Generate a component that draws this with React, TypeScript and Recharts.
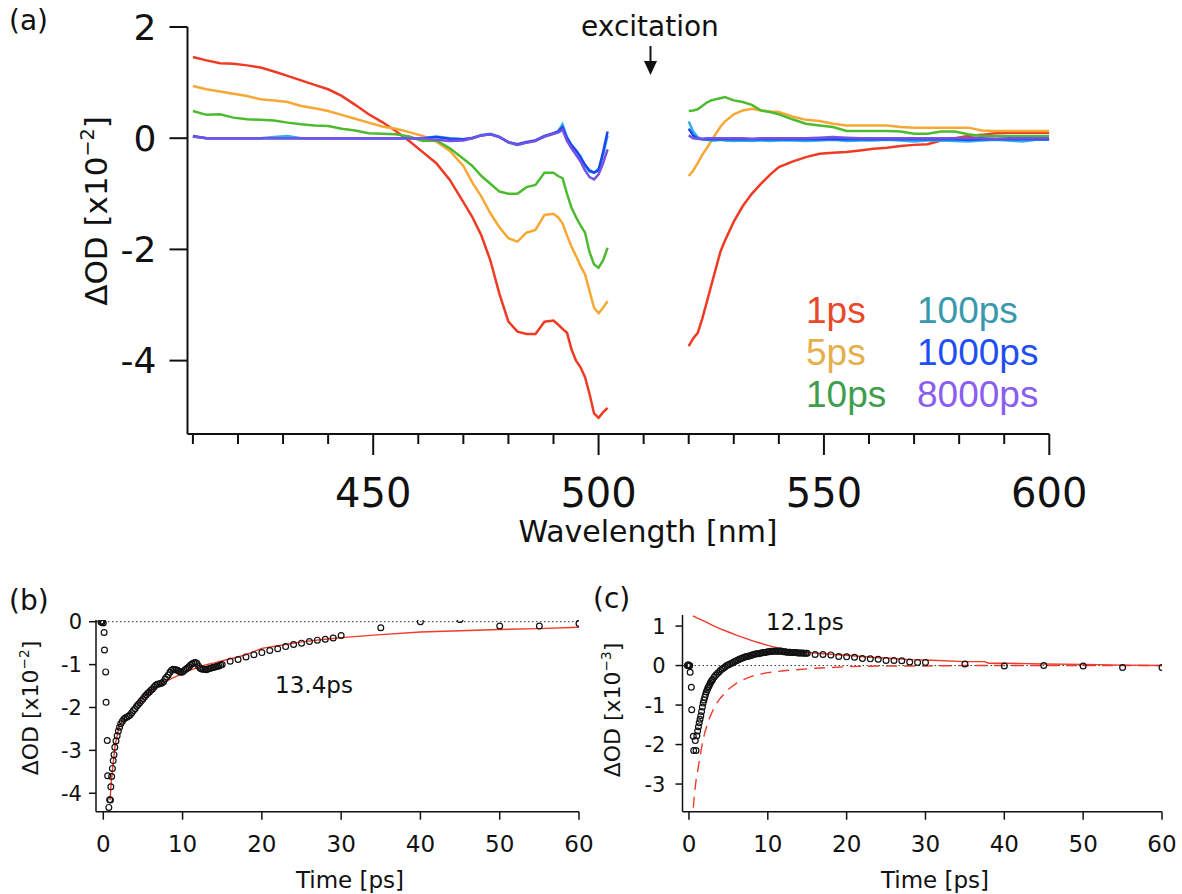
import React from 'react';
import { LineChart, Line, XAxis, YAxis, Legend, ComposedChart, Scatter, ReferenceLine } from 'recharts';

const FONT = '"DejaVu Sans", Verdana, sans-serif';
const LEGEND_FONT = '"Liberation Sans", Arial, sans-serif';
const INK = '#111111';

// ---------- Panel (a): transient spectra ----------
const wavelengths = [
  410, 413, 416, 419, 422, 425, 428, 431, 434, 437, 440, 443, 446, 449, 452, 455, 458, 461, 464, 467,
  470, 472, 474, 476, 478, 480, 482, 484, 486, 488, 490,
  491, 492, 493, 494, 495, 496, 497, 498, 499, 500, 501, 502,
  510,
  520, 521, 522, 523, 524, 525, 526, 527, 528,
  530, 532, 534, 536, 538, 540,
  543, 546, 549, 552, 555, 558, 561, 564, 567, 570, 573, 576, 579, 582, 585, 588, 591, 594, 597, 600,
];

const series1ps = [
  1.46, 1.40, 1.35, 1.34, 1.31, 1.27, 1.20, 1.12, 1.04, 0.96, 0.88, 0.76, 0.60, 0.43, 0.29, 0.13, -0.05, -0.25, -0.45, -0.75,
  -1.15, -1.42, -1.75, -2.20, -2.80, -3.30, -3.48, -3.52, -3.52, -3.30, -3.28,
  -3.35, -3.43, -3.50, -3.80, -4.00, -4.12, -4.30, -4.60, -4.95, -5.03, -4.93, -4.85,
  null,
  -3.74, -3.60, -3.50, -3.25, -2.95, -2.65, -2.35, -2.05, -1.85,
  -1.50, -1.22, -1.00, -0.82, -0.66, -0.52,
  -0.42, -0.34, -0.28, -0.26, -0.25, -0.22, -0.19, -0.17, -0.14, -0.12, -0.11, -0.04, 0.00, 0.04, 0.06, 0.09, 0.10, 0.10, 0.10, 0.10,
];
const series5ps = [
  0.94, 0.88, 0.84, 0.80, 0.76, 0.70, 0.68, 0.65, 0.58, 0.54, 0.49, 0.42, 0.35, 0.28, 0.21, 0.17, 0.11, 0.04, -0.06, -0.23,
  -0.50, -0.80, -1.05, -1.35, -1.60, -1.80, -1.86, -1.70, -1.65, -1.38, -1.36,
  -1.42, -1.53, -1.75, -1.95, -2.12, -2.30, -2.45, -2.75, -3.05, -3.15, -3.05, -2.93,
  null,
  -0.68, -0.58, -0.45, -0.30, -0.18, -0.05, 0.08, 0.20, 0.30,
  0.43, 0.50, 0.53, 0.50, 0.48, 0.47,
  0.39, 0.33, 0.31, 0.26, 0.23, 0.23, 0.23, 0.23, 0.20, 0.19, 0.19, 0.19, 0.19, 0.19, 0.14, 0.13, 0.13, 0.13, 0.13, 0.13,
];
const series10ps = [
  0.49, 0.42, 0.43, 0.37, 0.34, 0.33, 0.32, 0.28, 0.25, 0.23, 0.22, 0.17, 0.14, 0.09, 0.08, 0.07, 0.03, -0.05, -0.04, -0.18,
  -0.37, -0.50, -0.68, -0.82, -0.96, -1.00, -1.00, -0.88, -0.84, -0.62, -0.62,
  -0.68, -0.72, -1.00, -1.25, -1.42, -1.57, -1.70, -2.05, -2.27, -2.33, -2.20, -1.97,
  null,
  0.49, 0.50, 0.52, 0.58, 0.64, 0.68, 0.70, 0.72, 0.74,
  0.68, 0.65, 0.60, 0.50, 0.47, 0.43,
  0.34, 0.26, 0.23, 0.20, 0.13, 0.13, 0.13, 0.13, 0.12, 0.08, 0.08, 0.12, 0.12, 0.07, 0.04, 0.04, 0.04, 0.04, 0.04, 0.04,
];
const series100ps = [
  0.03, 0.00, 0.00, 0.00, 0.00, 0.00, 0.02, 0.04, 0.00, 0.00, 0.00, 0.00, 0.00, 0.00, 0.00, 0.00, 0.00, 0.00, 0.03, 0.00,
  -0.02, 0.01, 0.06, 0.08, 0.03, -0.08, -0.12, -0.08, -0.04, 0.03, 0.08,
  0.12, 0.25, 0.02, -0.12, -0.22, -0.32, -0.50, -0.60, -0.62, -0.55, -0.30, 0.05,
  null,
  0.30, 0.12, 0.02, -0.02, -0.03, -0.04, -0.04, -0.03, -0.04,
  -0.05, -0.04, -0.05, -0.04, -0.05, -0.04,
  -0.04, -0.05, -0.04, -0.03, -0.05, -0.04, -0.04, -0.03, -0.04, -0.06, -0.04, -0.04, -0.05, -0.06, -0.04, -0.03, -0.04, -0.06, -0.03, -0.03,
];
const series1000ps = [
  0.04, 0.00, 0.00, 0.00, 0.00, 0.00, 0.00, 0.00, 0.00, 0.00, 0.00, 0.00, 0.00, 0.00, 0.00, 0.00, 0.00, 0.00, 0.02, -0.01,
  -0.02, 0.00, 0.05, 0.07, 0.02, -0.07, -0.11, -0.07, -0.04, 0.04, 0.09,
  0.12, 0.20, 0.00, -0.13, -0.22, -0.35, -0.48, -0.58, -0.62, -0.58, -0.25, 0.12,
  null,
  0.17, 0.05, -0.01, -0.02, -0.02, -0.02, -0.02, -0.02, -0.02,
  -0.02, -0.02, -0.02, -0.02, -0.02, -0.02,
  -0.02, -0.02, -0.02, -0.02, -0.02, -0.02, -0.02, -0.02, -0.02, -0.02, -0.02, -0.02, -0.02, -0.03, -0.02, -0.02, -0.02, -0.02, -0.02, -0.02,
];
const series8000ps = [
  0.03, 0.00, 0.00, 0.00, 0.00, 0.00, 0.00, 0.00, 0.00, 0.00, 0.00, 0.00, 0.00, 0.00, 0.00, 0.00, 0.00, 0.00, -0.03, -0.05,
  -0.04, 0.00, 0.05, 0.07, 0.02, -0.07, -0.12, -0.08, -0.05, 0.03, 0.08,
  0.10, 0.15, -0.05, -0.18, -0.30, -0.42, -0.58, -0.70, -0.74, -0.65, -0.45, -0.20,
  null,
  0.05, 0.00, -0.01, -0.01, 0.00, 0.00, 0.00, 0.00, 0.00,
  0.00, 0.00, -0.01, 0.00, 0.00, 0.00,
  0.00, 0.00, 0.01, 0.02, 0.01, 0.00, 0.00, 0.00, 0.00, 0.00, 0.00, 0.00, 0.00, 0.00, 0.00, -0.01, 0.00, 0.00, 0.00, 0.00,
];

const seriesNames = ['1ps', '5ps', '10ps', '100ps', '1000ps', '8000ps'];
const seriesValues = [series1ps, series5ps, series10ps, series100ps, series1000ps, series8000ps];
const lineColors = ['#ef3b24', '#f7a834', '#4dbb30', '#2cb2ee', '#1e44f0', '#7452e6'];
const legendColors = ['#e8492c', '#e5b04c', '#3f9e4d', '#3899ac', '#1f4ff2', '#8a5ef0'];
const wlTicks = [410, 420, 430, 440, 450, 460, 470, 480, 490, 500, 510, 520, 530, 540, 550, 560, 570, 580, 590, 600];
const odTicksA = [2, 0, -2, -4];

const spectraRows = wavelengths.map((wl, i) => {
  const row: Record<string, number | null> = { wl };
  seriesNames.forEach((n, k) => { row[n] = seriesValues[k][i]; });
  return row;
});

// ---------- Panel (b): kinetics with 13.4 ps fit ----------
const bTimes = [
  -0.3, -0.2, -0.1, 0.0, 0.1, 0.15, 0.3, 0.35, 0.5, 0.55, 0.7, 0.8, 0.9, 0.95, 1.05, 1.15, 1.25, 1.35, 1.45, 1.6, 1.75, 1.9, 2.05, 2.2,
  2.4, 2.6, 2.8, 3.0, 3.2, 3.4, 3.6, 3.8, 4.0, 4.2, 4.4, 4.6, 4.8, 5.0, 5.2, 5.4, 5.6, 5.8, 6.0, 6.2,
  6.4, 6.6, 6.8, 7.0, 7.2, 7.4, 7.6, 7.8, 8.0, 8.2, 8.4, 8.6, 8.8, 9.0, 9.2, 9.4, 9.6, 9.8, 10.0, 10.2,
  10.4, 10.6, 10.8, 11.0, 11.2, 11.4, 11.6, 11.8, 12.0, 12.2, 12.4, 12.6, 12.8, 13.0, 13.2, 13.4, 13.6, 13.8, 14.0, 14.2,
  14.4, 14.6, 14.8, 15.0,
  16, 17, 18, 19, 20, 21, 22, 23, 24, 25, 26, 27, 28, 29, 30,
  35, 40, 45, 50, 55, 60,
];
const bValues = [
  0.0, -0.02, 0.01, -0.03, -0.25, -0.66, -1.17, -1.88, -2.77, -3.59, -4.33, -4.15, -4.16, -3.85, -3.61, -3.42, -3.24, -3.10, -2.93, -2.78, -2.66, -2.55, -2.46, -2.38,
  -2.32, -2.27, -2.24, -2.22, -2.20, -2.17, -2.12, -2.07, -2.03, -1.97, -1.93, -1.89, -1.84, -1.80, -1.75, -1.71, -1.67, -1.64, -1.60, -1.57,
  -1.52, -1.48, -1.46, -1.45, -1.44, -1.43, -1.40, -1.33, -1.29, -1.24, -1.18, -1.13, -1.11, -1.12, -1.12, -1.14, -1.16, -1.18, -1.17, -1.14,
  -1.11, -1.08, -1.05, -1.01, -0.98, -0.96, -0.95, -0.97, -1.03, -1.08, -1.10, -1.11, -1.11, -1.12, -1.10, -1.09, -1.08, -1.07, -1.06, -1.05,
  -1.04, -1.03, -1.01, -1.00,
  -0.92, -0.88, -0.82, -0.77, -0.72, -0.67, -0.63, -0.58, -0.53, -0.50, -0.46, -0.43, -0.41, -0.38, -0.32,
  -0.14, 0.00, 0.05, -0.10, -0.10, -0.04,
];
const bFitTimes = [0.85, 1.0, 1.2, 1.5, 2.0, 2.5, 3, 4, 5, 6, 7, 8, 9, 10, 11, 12, 13, 14, 15, 16, 18, 20, 22, 25, 28, 30, 35, 40, 45, 50, 55, 60];
const bFitValues = [-4.16, -3.75, -3.38, -2.86, -2.45, -2.28, -2.17, -1.94, -1.75, -1.60, -1.49, -1.38, -1.29, -1.21, -1.13, -1.06, -1.00, -0.96, -0.91, -0.87, -0.77, -0.62, -0.56, -0.47, -0.41, -0.37, -0.30, -0.24, -0.21, -0.18, -0.16, -0.13];
const bTicksY = [0, -1, -2, -3, -4];

// ---------- Panel (c): kinetics with 12.1 ps components ----------
const cTimes = [
  -0.2, -0.1, 0.0, 0.1, 0.15, 0.3, 0.35, 0.55, 0.6, 0.8, 0.9, 1.0, 1.1, 1.2, 1.3, 1.4, 1.5, 1.6, 1.7, 1.8, 1.9, 2.0, 2.1, 2.2, 2.3, 2.4, 2.5, 2.6, 2.7, 2.8, 2.9, 3.0,
  3.2, 3.4, 3.6, 3.8, 4.0, 4.2, 4.4, 4.6, 4.8, 5.0, 5.2, 5.4, 5.6, 5.8, 6.0, 6.2, 6.4, 6.6, 6.8, 7.0,
  7.2, 7.4, 7.6, 7.8, 8.0, 8.2, 8.4, 8.6, 8.8, 9.0, 9.2, 9.4, 9.6, 9.8, 10.0, 10.2, 10.4, 10.6, 10.8, 11.0,
  11.2, 11.4, 11.6, 11.8, 12.0, 12.2, 12.4, 12.6, 12.8, 13.0, 13.2, 13.4, 13.6, 13.8, 14.0, 14.2, 14.4, 14.6, 14.8, 15.0,
  16, 17, 18, 19, 20, 21, 22, 23, 24, 25, 26, 27, 28, 29, 30,
  35, 40, 45, 50, 55, 60,
];
const cValues = [
  0.0, 0.02, -0.01, 0.0, -0.17, -0.55, -1.12, -1.79, -2.15, -1.90, -2.15, -1.78, -1.66, -1.55, -1.45, -1.36, -1.27, -1.16, -1.05, -0.95, -0.87, -0.80, -0.73, -0.67, -0.62, -0.57, -0.53, -0.49, -0.45, -0.41, -0.38, -0.35,
  -0.29, -0.24, -0.20, -0.16, -0.12, -0.09, -0.06, -0.03, 0.00, 0.02, 0.04, 0.06, 0.08, 0.10, 0.12, 0.14, 0.16, 0.18, 0.19, 0.21,
  0.22, 0.23, 0.24, 0.25, 0.27, 0.28, 0.29, 0.30, 0.30, 0.31, 0.32, 0.33, 0.33, 0.34, 0.35, 0.35, 0.36, 0.36, 0.36, 0.37,
  0.36, 0.36, 0.37, 0.36, 0.35, 0.35, 0.34, 0.34, 0.34, 0.33, 0.33, 0.33, 0.33, 0.32, 0.32, 0.32, 0.32, 0.31, 0.31, 0.31,
  0.28, 0.28, 0.27, 0.23, 0.22, 0.21, 0.18, 0.17, 0.16, 0.13, 0.13, 0.12, 0.09, 0.08, 0.08,
  0.04, -0.01, 0.00, -0.01, -0.05, -0.05,
];
const cRiseTimes = [0.5, 1, 2, 3, 4, 5, 6, 7, 8, 9, 10, 11, 12, 13, 14, 15, 17, 20, 23, 25, 28, 30, 35, 37.5, 38, 40, 45, 50, 55, 60];
const cRiseValues = [1.26, 1.21, 1.12, 1.02, 0.93, 0.85, 0.77, 0.70, 0.63, 0.57, 0.51, 0.46, 0.42, 0.38, 0.35, 0.33, 0.30, 0.26, 0.21, 0.19, 0.15, 0.14, 0.10, 0.10, 0.06, 0.06, 0.04, 0.03, 0.01, 0.00];
const cDecayTimes = [0.55, 0.7, 0.9, 1.2, 1.6, 2.0, 2.5, 3.0, 3.5, 4.0, 5.0, 6.0, 7.0, 8.0, 9.0, 10, 12, 14, 16, 18, 20, 22, 25, 30, 35, 40, 50, 60];
const cDecayValues = [-3.6, -3.25, -2.9, -2.55, -2.08, -1.7, -1.38, -1.15, -0.96, -0.82, -0.6, -0.45, -0.35, -0.27, -0.22, -0.18, -0.13, -0.1, -0.07, -0.05, -0.03, -0.02, -0.01, -0.01, 0, 0, 0, 0];
const cTicksY = [1, 0, -1, -2, -3];
const timeTicks = [0, 10, 20, 30, 40, 50, 60];

const zip = (ts: number[], ys: number[]) => ts.map((t, i) => ({ t, y: ys[i] }));
const bPoints = zip(bTimes, bValues);
const bFit = zip(bFitTimes, bFitValues);
const cPoints = zip(cTimes, cValues);
const cRise = zip(cRiseTimes, cRiseValues);
const cDecay = zip(cDecayTimes, cDecayValues);

// ---------- helpers ----------
function WlTick(props: any) {
  const { x, y, payload } = props;
  const major = payload.value % 50 === 0;
  return (
    <g>
      <line x1={x} y1={y} x2={x} y2={y + (major ? 21 : 10)} stroke={INK} strokeWidth={2} />
      {major && (
        <text x={x} y={y + 73} textAnchor="middle" fontSize={40} fontFamily={FONT} fill={INK}>
          {payload.value}
        </text>
      )}
    </g>
  );
}

function RotLabel(props: any) {
  const { lx, ly, fs, exp } = props;
  return (
    <text x={lx} y={ly} transform={`rotate(-90 ${lx} ${ly})`} textAnchor="middle" fontSize={fs} fontFamily={FONT} fill={INK}>
      <tspan>ΔOD [x10</tspan>
      <tspan dy={-fs * 0.42} fontSize={fs * 0.62}>{'−' + exp}</tspan>
      <tspan dy={fs * 0.42}>]</tspan>
    </text>
  );
}

function XTitle(props: any) {
  const { lx, ly, fs, txt } = props;
  return (
    <text x={lx} y={ly} textAnchor="middle" fontSize={fs} fontFamily={FONT} fill={INK}>{txt}</text>
  );
}

function LegendGrid(props: any) {
  const payload: any[] = props.payload || [];
  const ordered = seriesNames
    .map((n) => payload.find((e: any) => e.value === n))
    .filter(Boolean);
  return (
    <div
      style={{
        display: 'grid',
        gridTemplateRows: 'repeat(3, 42px)',
        gridAutoFlow: 'column',
        gridTemplateColumns: '111px 150px',
        fontFamily: LEGEND_FONT,
        fontSize: 37,
        lineHeight: '42px',
      }}
    >
      {ordered.map((e: any) => (
        <div key={e.value} style={{ color: legendColors[seriesNames.indexOf(e.value)] }}>{e.value}</div>
      ))}
    </div>
  );
}

const ring = (p: any) => <circle cx={p.cx} cy={p.cy} r={2.9} fill="none" stroke={INK} strokeWidth={1.2} />;

const smallTick = { fontSize: 23, fill: INK, fontFamily: FONT };
const yTickSmall = { fontSize: 21, fill: INK, fontFamily: FONT };
const thinAxis = { stroke: INK, strokeWidth: 1.5 };

export default function App() {
  return (
    <div style={{ position: 'absolute', left: 0, top: 0, width: 1182, height: 894, background: '#fff' }}>
      {/* Panel (a) */}
      <div style={{ position: 'absolute', left: 0, top: 0 }}>
        <LineChart width={1182} height={560} data={spectraRows} margin={{ top: 27, right: 132.7, bottom: 0, left: 0 }}>
          <XAxis
            type="number"
            dataKey="wl"
            domain={[408.8, 600]}
            ticks={wlTicks}
            interval={0}
            allowDataOverflow
            height={126}
            tickSize={0}
            tickMargin={0}
            tickLine={false}
            axisLine={{ stroke: INK, strokeWidth: 2 }}
            tick={(p: any) => <WlTick {...p} />}
            label={<XTitle lx={648} ly={542} fs={30} txt="Wavelength [nm]" />}
          />
          <YAxis
            type="number"
            domain={[-5.32, 2]}
            ticks={odTicksA}
            interval={0}
            allowDataOverflow
            width={187.5}
            tickSize={18}
            tickMargin={13}
            axisLine={{ stroke: INK, strokeWidth: 2 }}
            tickLine={{ stroke: INK, strokeWidth: 2 }}
            tick={{ fontSize: 36, fill: INK, fontFamily: FONT }}
            label={<RotLabel lx={107} ly={211} fs={31} exp="2" />}
          />
          {seriesNames.map((n, i) => (
            <Line
              key={n}
              dataKey={n}
              name={n}
              type="linear"
              stroke={lineColors[i]}
              strokeWidth={2.5}
              dot={false}
              activeDot={false}
              connectNulls={false}
              isAnimationActive={false}
            />
          ))}
          <Legend
            content={LegendGrid}
            layout="horizontal"
            verticalAlign="middle"
            align="center"
            wrapperStyle={{ position: 'absolute', left: 806, top: 290, width: 270, height: 126 }}
          />
        </LineChart>
      </div>

      {/* Panel (b) */}
      <div style={{ position: 'absolute', left: 0, top: 580 }}>
        <ComposedChart width={610} height={314} margin={{ top: 40, right: 31, bottom: 0, left: 0 }}>
          <XAxis
            type="number"
            dataKey="t"
            domain={[-0.92, 60]}
            ticks={timeTicks}
            interval={0}
            allowDataOverflow
            height={82.3}
            tickSize={8}
            tickMargin={16}
            axisLine={thinAxis}
            tickLine={thinAxis}
            tick={smallTick}
            label={<XTitle lx={350} ly={308} fs={23} txt="Time [ps]" />}
          />
          <YAxis
            type="number"
            dataKey="y"
            domain={[-4.43, 0.04]}
            ticks={bTicksY}
            interval={0}
            allowDataOverflow
            width={96}
            tickSize={7}
            tickMargin={7}
            axisLine={thinAxis}
            tickLine={thinAxis}
            tick={yTickSmall}
            label={<RotLabel lx={38} ly={128} fs={22} exp="2" />}
          />
          <ReferenceLine y={0} stroke="#333" strokeDasharray="1.5 2.5" strokeWidth={1} />
          <Scatter data={bPoints} dataKey="y" shape={ring} isAnimationActive={false} />
          <Line data={bFit} dataKey="y" type="linear" stroke="#ee3b2b" strokeWidth={1.4} dot={false} activeDot={false} isAnimationActive={false} />
        </ComposedChart>
      </div>

      {/* Panel (c) */}
      <div style={{ position: 'absolute', left: 591, top: 580 }}>
        <ComposedChart width={591} height={314} margin={{ top: 35, right: 20, bottom: 0, left: 0 }}>
          <XAxis
            type="number"
            dataKey="t"
            domain={[-0.82, 60]}
            ticks={timeTicks}
            interval={0}
            allowDataOverflow
            height={82.3}
            tickSize={8}
            tickMargin={16}
            axisLine={thinAxis}
            tickLine={thinAxis}
            tick={smallTick}
            label={<XTitle lx={344} ly={308} fs={23} txt="Time [ps]" />}
          />
          <YAxis
            type="number"
            dataKey="y"
            domain={[-3.7, 1.28]}
            ticks={cTicksY}
            interval={0}
            allowDataOverflow
            width={91.5}
            tickSize={7}
            tickMargin={10}
            axisLine={thinAxis}
            tickLine={thinAxis}
            tick={yTickSmall}
            label={<RotLabel lx={29} ly={130} fs={22} exp="3" />}
          />
          <ReferenceLine y={0} stroke="#333" strokeDasharray="1.5 2.5" strokeWidth={1} />
          <Line data={cRise} dataKey="y" type="linear" stroke="#ee3b2b" strokeWidth={1.4} dot={false} activeDot={false} isAnimationActive={false} />
          <Line data={cDecay} dataKey="y" type="linear" stroke="#ee3b2b" strokeWidth={1.4} strokeDasharray="11 7" dot={false} activeDot={false} isAnimationActive={false} />
          <Scatter data={cPoints} dataKey="y" shape={ring} isAnimationActive={false} />
        </ComposedChart>
      </div>

      {/* annotations */}
      <svg width={1182} height={894} style={{ position: 'absolute', left: 0, top: 0, pointerEvents: 'none' }}>
        <text x={9} y={30} fontSize={28} fontFamily={FONT} fill={INK}>(a)</text>
        <text x={9} y={610} fontSize={28} fontFamily={FONT} fill={INK}>(b)</text>
        <text x={593} y={608} fontSize={28} fontFamily={FONT} fill={INK}>(c)</text>
        <text x={650} y={36} textAnchor="middle" fontSize={28} fontFamily={FONT} fill={INK}>excitation</text>
        <line x1={650.5} y1={46} x2={650.5} y2={63} stroke={INK} strokeWidth={2} />
        <polygon points="644,61 657,61 650.5,75" fill={INK} />
        <text x={314} y={693} textAnchor="middle" fontSize={23} fontFamily={FONT} fill={INK}>13.4ps</text>
        <text x={766} y={630} fontSize={23} fontFamily={FONT} fill={INK}>12.1ps</text>
      </svg>
    </div>
  );
}
